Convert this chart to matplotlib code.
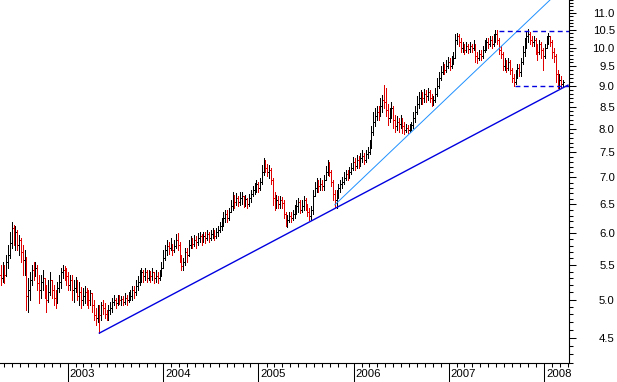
import matplotlib
matplotlib.use('Agg')
import matplotlib.pyplot as plt
import matplotlib.dates as mdates
from matplotlib.collections import LineCollection
from matplotlib.ticker import FixedLocator, FormatStrFormatter, NullFormatter
from matplotlib.transforms import ScaledTranslation
import numpy as np
import pandas as pd

# Weekly bars, Friday closes, April 2002 - March 2008.
first_week = '2002-04-19'
first_open = 5.35

closes = [
    5.31, 5.43, 5.35, 5.55, 5.65, 5.84, 6.09, 5.92, 6.02, 5.81,
    5.89, 5.70, 5.58, 5.61, 5.05, 5.13, 5.28, 5.43, 5.38, 5.46,
    5.24, 5.13, 5.25, 5.31, 5.13, 5.00, 5.10, 5.28, 5.13, 5.02,
    4.97, 5.16, 5.25, 5.40, 5.43, 5.40, 5.34, 5.21, 5.28, 5.13,
    5.16, 5.25, 5.05, 5.10, 5.00, 5.05, 5.10, 5.02, 5.00, 5.09,
    4.92, 4.79, 4.75, 4.83, 4.79, 4.93, 4.89, 4.80, 4.75, 4.86,
    4.89, 4.97, 5.00, 4.96, 5.02, 5.00, 5.01, 4.97, 5.02, 5.00,
    5.04, 5.05, 5.13, 5.10, 5.19, 5.25, 5.34, 5.40, 5.34, 5.40,
    5.31, 5.37, 5.34, 5.40, 5.31, 5.34, 5.31, 5.37, 5.46, 5.61,
    5.73, 5.79, 5.76, 5.83, 5.73, 5.79, 5.89, 5.81, 5.61, 5.49,
    5.55, 5.70, 5.65, 5.81, 5.89, 5.83, 5.89, 5.86, 5.92, 5.95,
    5.89, 5.95, 5.92, 5.99, 5.92, 5.99, 6.02, 5.95, 6.02, 6.06,
    6.12, 6.19, 6.26, 6.33, 6.26, 6.36, 6.47, 6.62, 6.54, 6.62,
    6.54, 6.62, 6.65, 6.54, 6.60, 6.51, 6.62, 6.69, 6.76, 6.80,
    6.87, 6.80, 6.91, 7.10, 7.30, 7.18, 7.10, 7.14, 6.95, 6.62,
    6.49, 6.58, 6.51, 6.58, 6.53, 6.33, 6.19, 6.22, 6.29, 6.26,
    6.33, 6.40, 6.47, 6.54, 6.40, 6.47, 6.58, 6.47, 6.36, 6.29,
    6.40, 6.65, 6.80, 6.87, 6.83, 6.87, 6.83, 6.95, 7.10, 7.24,
    7.10, 6.91, 6.69, 6.58, 6.65, 6.80, 6.87, 6.91, 6.99, 7.07,
    7.03, 7.10, 7.18, 7.30, 7.22, 7.34, 7.26, 7.38, 7.42, 7.34,
    7.46, 7.51, 7.63, 7.93, 8.15, 8.29, 8.38, 8.33, 8.52, 8.66,
    8.61, 8.42, 8.24, 8.33, 8.47, 8.20, 8.06, 8.15, 8.10, 8.20,
    8.06, 7.97, 8.01, 7.97, 8.04, 8.08, 8.24, 8.38, 8.56, 8.71,
    8.76, 8.71, 8.80, 8.76, 8.85, 8.71, 8.61, 8.66, 8.80, 9.00,
    9.20, 9.35, 9.45, 9.40, 9.50, 9.61, 9.50, 9.61, 9.72, 10.21,
    10.32, 10.15, 9.99, 10.04, 9.94, 10.04, 9.96, 10.04, 9.99, 10.07,
    9.77, 9.72, 9.83, 9.77, 9.94, 10.04, 10.15, 10.10, 10.21, 10.10,
    10.27, 10.38, 10.21, 9.94, 9.83, 9.50, 9.56, 9.45, 9.61, 9.40,
    9.20, 9.10, 9.30, 9.45, 9.35, 9.61, 9.88, 10.10, 10.32, 10.38,
    10.21, 10.15, 10.21, 9.99, 9.88, 10.10, 9.94, 9.77, 9.99, 10.21,
    10.32, 10.15, 9.88, 9.77, 9.30, 9.05, 9.15, 9.05, 9.10,
]

highs = [
    5.50, 5.55, 5.50, 5.65, 5.81, 6.02, 6.19, 6.14, 6.12, 6.06,
    5.97, 5.92, 5.81, 5.73, 5.62, 5.31, 5.40, 5.50, 5.55, 5.55,
    5.50, 5.35, 5.35, 5.43, 5.31, 5.21, 5.28, 5.40, 5.28, 5.21,
    5.13, 5.25, 5.35, 5.46, 5.50, 5.49, 5.46, 5.40, 5.35, 5.35,
    5.28, 5.32, 5.28, 5.25, 5.18, 5.16, 5.19, 5.16, 5.13, 5.13,
    5.07, 5.00, 4.89, 4.93, 4.93, 4.97, 5.00, 4.96, 4.86, 4.93,
    4.97, 5.02, 5.06, 5.02, 5.07, 5.06, 5.05, 5.05, 5.09, 5.07,
    5.10, 5.13, 5.19, 5.19, 5.28, 5.34, 5.43, 5.46, 5.43, 5.46,
    5.43, 5.43, 5.41, 5.46, 5.40, 5.43, 5.40, 5.43, 5.55, 5.73,
    5.81, 5.89, 5.86, 5.92, 5.83, 5.89, 5.99, 6.01, 5.86, 5.65,
    5.61, 5.76, 5.76, 5.89, 5.95, 5.92, 5.97, 5.95, 6.01, 6.02,
    5.99, 6.02, 6.02, 6.06, 6.02, 6.06, 6.09, 6.06, 6.09, 6.12,
    6.19, 6.26, 6.36, 6.40, 6.40, 6.44, 6.58, 6.72, 6.67, 6.71,
    6.65, 6.72, 6.72, 6.65, 6.67, 6.62, 6.69, 6.76, 6.83, 6.89,
    6.95, 6.91, 6.99, 7.24, 7.38, 7.34, 7.26, 7.24, 7.18, 6.99,
    6.72, 6.67, 6.65, 6.65, 6.63, 6.58, 6.36, 6.31, 6.36, 6.36,
    6.40, 6.49, 6.58, 6.62, 6.58, 6.58, 6.65, 6.62, 6.51, 6.44,
    6.47, 6.76, 6.91, 6.99, 6.95, 6.99, 6.95, 7.05, 7.22, 7.34,
    7.30, 7.14, 6.95, 6.76, 6.76, 6.87, 6.95, 7.01, 7.10, 7.14,
    7.14, 7.20, 7.28, 7.40, 7.38, 7.44, 7.42, 7.48, 7.55, 7.48,
    7.55, 7.61, 7.76, 8.06, 8.38, 8.47, 8.52, 8.52, 8.71, 8.78,
    9.02, 8.95, 8.56, 8.47, 8.61, 8.52, 8.31, 8.29, 8.24, 8.31,
    8.24, 8.15, 8.10, 8.08, 8.10, 8.15, 8.38, 8.52, 8.76, 8.85,
    8.90, 8.85, 8.92, 8.90, 8.95, 8.90, 8.80, 8.76, 8.95, 9.20,
    9.35, 9.50, 9.61, 9.56, 9.67, 9.75, 9.72, 9.77, 9.88, 10.38,
    10.41, 10.38, 10.27, 10.15, 10.10, 10.15, 10.10, 10.15, 10.10, 10.21,
    10.10, 9.88, 9.94, 9.94, 10.04, 10.21, 10.27, 10.27, 10.32, 10.32,
    10.38, 10.50, 10.50, 10.27, 10.04, 9.88, 9.72, 9.67, 9.72, 9.67,
    9.45, 9.30, 9.40, 9.56, 9.56, 9.72, 10.04, 10.27, 10.44, 10.53,
    10.44, 10.32, 10.32, 10.27, 10.10, 10.21, 10.15, 9.99, 10.10, 10.32,
    10.41, 10.32, 10.21, 9.99, 9.83, 9.40, 9.30, 9.25, 9.15,
]

lows = [
    5.21, 5.25, 5.24, 5.34, 5.46, 5.61, 5.76, 5.81, 5.73, 5.73,
    5.65, 5.55, 5.35, 5.35, 4.86, 4.83, 5.00, 5.21, 5.28, 5.34,
    5.13, 4.96, 5.02, 5.13, 5.02, 4.83, 4.97, 5.06, 5.02, 4.92,
    4.89, 4.96, 5.10, 5.16, 5.31, 5.28, 5.21, 5.13, 5.13, 5.00,
    4.97, 5.10, 5.00, 4.93, 4.89, 4.93, 4.96, 4.92, 4.89, 4.92,
    4.83, 4.73, 4.66, 4.70, 4.56, 4.73, 4.80, 4.75, 4.73, 4.73,
    4.80, 4.83, 4.92, 4.89, 4.93, 4.94, 4.93, 4.92, 4.94, 4.93,
    4.97, 5.00, 5.00, 5.02, 5.07, 5.13, 5.21, 5.25, 5.25, 5.28,
    5.25, 5.28, 5.25, 5.28, 5.24, 5.25, 5.24, 5.28, 5.34, 5.46,
    5.58, 5.65, 5.67, 5.73, 5.65, 5.70, 5.76, 5.73, 5.55, 5.43,
    5.43, 5.50, 5.55, 5.64, 5.76, 5.76, 5.79, 5.76, 5.81, 5.86,
    5.81, 5.86, 5.84, 5.89, 5.86, 5.89, 5.92, 5.89, 5.92, 5.95,
    6.02, 6.06, 6.12, 6.19, 6.19, 6.22, 6.36, 6.40, 6.44, 6.49,
    6.47, 6.49, 6.51, 6.45, 6.47, 6.44, 6.47, 6.54, 6.65, 6.69,
    6.72, 6.72, 6.76, 6.87, 7.05, 7.10, 7.03, 6.99, 6.87, 6.49,
    6.40, 6.44, 6.44, 6.44, 6.44, 6.26, 6.12, 6.11, 6.19, 6.19,
    6.22, 6.26, 6.33, 6.36, 6.35, 6.36, 6.40, 6.40, 6.29, 6.22,
    6.22, 6.33, 6.65, 6.72, 6.72, 6.76, 6.76, 6.76, 6.95, 7.05,
    7.03, 6.83, 6.58, 6.45, 6.44, 6.62, 6.72, 6.80, 6.87, 6.95,
    6.95, 6.99, 7.07, 7.14, 7.14, 7.18, 7.18, 7.22, 7.30, 7.26,
    7.30, 7.38, 7.46, 7.59, 7.86, 8.06, 8.20, 8.20, 8.29, 8.38,
    8.47, 8.29, 8.08, 8.15, 8.24, 8.01, 7.93, 7.97, 7.93, 8.01,
    7.90, 7.88, 7.93, 7.90, 7.93, 7.97, 8.01, 8.15, 8.33, 8.47,
    8.56, 8.56, 8.61, 8.61, 8.66, 8.61, 8.52, 8.54, 8.61, 8.76,
    8.95, 9.15, 9.30, 9.30, 9.35, 9.45, 9.40, 9.45, 9.56, 9.77,
    10.10, 10.04, 9.88, 9.88, 9.83, 9.88, 9.85, 9.88, 9.88, 9.94,
    9.61, 9.59, 9.67, 9.67, 9.72, 9.88, 9.94, 9.99, 10.04, 9.99,
    10.04, 10.15, 10.10, 9.83, 9.72, 9.40, 9.40, 9.35, 9.40, 9.30,
    9.10, 9.00, 9.05, 9.20, 9.25, 9.25, 9.56, 9.77, 9.99, 10.15,
    10.10, 10.04, 10.04, 9.83, 9.67, 9.83, 9.72, 9.40, 9.72, 9.99,
    10.10, 10.04, 9.72, 9.61, 9.10, 8.95, 8.95, 8.97, 9.00,
]

# Trend lines and trading range drawn on the chart.
support_dates = ['2003-05-02', '2008-04-02']
support_prices = [4.56, 9.02]
channel_dates = ['2005-10-21', '2008-01-24']
channel_prices = [6.49, 11.40]
range_top_dates = ['2007-07-12', '2008-04-06']
range_top = 10.47
range_bottom_dates = ['2007-09-12', '2008-04-06']
range_bottom = 9.00

price_ticks = [4.5, 5.0, 5.5, 6.0, 6.5, 7.0, 7.5, 8.0, 8.5, 9.0, 9.5, 10.0, 10.5, 11.0]

# Build the OHLC segments.
closes = np.array(closes)
weeks = pd.date_range(first_week, periods=len(closes), freq='7D')
x = mdates.date2num(weeks)
opens = np.r_[first_open, closes[:-1]]
hi = np.maximum(np.array(highs), np.maximum(opens, closes))
lo = np.minimum(np.array(lows), np.minimum(opens, closes))

segs, cols = [], []
for xi, o, h, l, c in zip(x, opens, hi, lo, closes):
    col = 'black' if c >= o else '#e00000'
    segs += [[(xi, l), (xi, h)], [(xi - 2.5, o), (xi, o)], [(xi, c), (xi + 2.5, c)]]
    cols += [col] * 3

plt.rcParams['font.family'] = ['Liberation Sans', 'DejaVu Sans']
fig = plt.figure(figsize=(6.17, 3.82), dpi=100)
ax = fig.add_axes([0, 19 / 382, 569 / 617, 363 / 382])

ax.add_collection(LineCollection(segs, colors=cols, linewidths=0.55, antialiased=False))

ax.plot(pd.to_datetime(support_dates), support_prices, color='#0000e0', lw=1.0)
ax.plot(pd.to_datetime(channel_dates), channel_prices, color='#1e90ff', lw=0.7)
ax.plot(pd.to_datetime(range_top_dates), [range_top] * 2, color='#0000e0',
        lw=1.0, ls=(0, (3.5, 2.5)))
ax.plot(pd.to_datetime(range_bottom_dates), [range_bottom] * 2, color='#0000e0',
        lw=1.0, ls=(0, (3.5, 2.5)))

# Axes: log price scale on the right, years along the bottom.
ax.set_yscale('log')
ax.set_ylim(4.20, 11.40)
ax.set_xlim(mdates.datestr2num('2002-04-16'), mdates.datestr2num('2008-04-06'))

ax.yaxis.tick_right()
ax.yaxis.set_major_locator(FixedLocator(price_ticks))
ax.yaxis.set_minor_locator(FixedLocator(np.arange(42, 115) / 10))
ax.yaxis.set_major_formatter(FormatStrFormatter('%.1f'))
ax.yaxis.set_minor_formatter(NullFormatter())
ax.tick_params(axis='y', which='major', length=5, width=0.75, pad=28, labelsize=8.2)
ax.tick_params(axis='y', which='minor', length=3, width=0.75)
plt.setp(ax.get_yticklabels(), ha='right')

ax.xaxis.set_major_locator(mdates.YearLocator())
ax.xaxis.set_minor_locator(mdates.MonthLocator())
ax.xaxis.set_major_formatter(mdates.DateFormatter('%Y'))
ax.tick_params(axis='x', which='major', length=14, width=0.75, pad=-9.5, labelsize=8.2)
ax.tick_params(axis='x', which='minor', length=3, width=0.75)
shift = ScaledTranslation(2 / 100, 0, fig.dpi_scale_trans)
for lbl in ax.get_xticklabels():
    lbl.set_ha('left')
    lbl.set_transform(lbl.get_transform() + shift)

ax.spines['left'].set_visible(False)
ax.spines['top'].set_visible(False)
ax.spines['right'].set_linewidth(0.8)
ax.spines['bottom'].set_linewidth(0.8)

fig.savefig('out.png', dpi=100)
